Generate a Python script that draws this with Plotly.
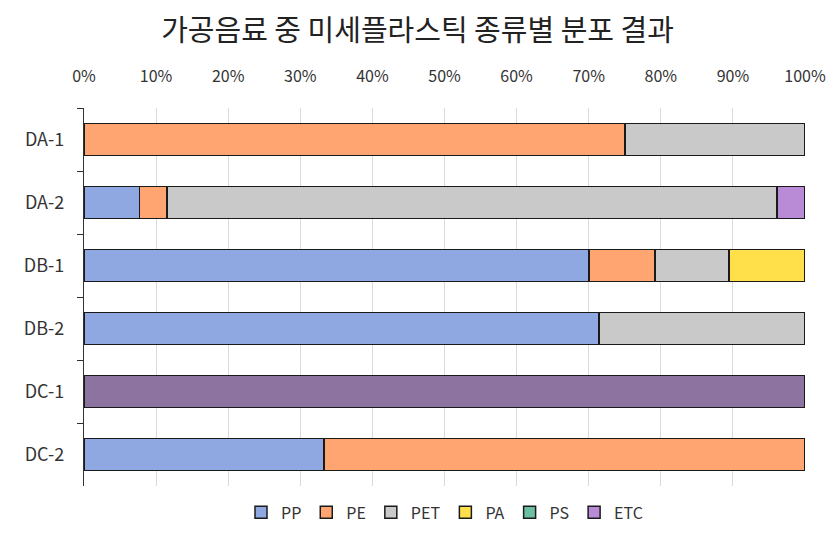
import plotly.graph_objects as go

categories = ["DA-1", "DA-2", "DB-1", "DB-2", "DC-1", "DC-2"]
series_names = ["PP", "PE", "PET", "PA", "PS", "ETC"]
pp = [None, 7.69, 70.0, 71.4, None, 33.3]
pe = [75.0, 3.85, 9.2, None, None, 66.7]
pet = [25.0, 84.61, 10.3, 28.6, None, None]
pa = [None, None, 10.5, None, None, None]
ps = [None, None, None, None, None, None]
etc = [None, 3.85, None, None, 100.0, None]
values = [pp, pe, pet, pa, ps, etc]
colors = ["#8FA8E2", "#FFA572", "#C9C9C9", "#FFE04A", "#6CBFA0", "#B98AD6"]
etc_point_colors = ["#B98AD6", "#B98AD6", "#B98AD6", "#B98AD6", "#8C73A0", "#B98AD6"]

FONT = "Noto Sans CJK KR"

fig = go.Figure()
for name, vals, col in zip(series_names, values, colors):
    mc = etc_point_colors if name == "ETC" else col
    fig.add_trace(go.Bar(
        y=categories, x=vals, name=name, orientation="h",
        marker=dict(color=mc, line=dict(color="#1a1a1a", width=1.8)),
        showlegend=False,
    ))
# legend entries
for name, col in zip(series_names, colors):
    fig.add_trace(go.Bar(
        y=[None], x=[None], name=name, orientation="h",
        marker=dict(color=col, line=dict(color="#1a1a1a", width=1.5)),
        showlegend=True,
    ))

fig.update_layout(
    barmode="stack",
    bargap=0.49,
    width=835, height=543,
    margin=dict(l=84, r=30, t=108, b=57),
    paper_bgcolor="white", plot_bgcolor="white",
    font=dict(family=FONT, size=15, color="#333333"),
    title=dict(text="가공음료 중 미세플라스틱 종류별 분포 결과", x=0.5, xanchor="center",
               y=0.943, yanchor="middle", font=dict(family=FONT, size=29, color="#222222")),
    legend=dict(orientation="h", x=0.5, xanchor="center", y=-0.07, yanchor="middle",
                font=dict(family=FONT, size=16, color="#333333"), itemwidth=30,
                tracegroupgap=0, traceorder="normal"),
    xaxis=dict(side="top", range=[0, 100], dtick=10, ticksuffix="%",
               showgrid=True, gridcolor="#DADADA", gridwidth=1, zeroline=False,
               showline=False, ticks="", ticklabelstandoff=22, automargin=False,
               tickfont=dict(family=FONT, size=16, color="#333333")),
    yaxis=dict(categoryorder="array", categoryarray=categories, autorange="reversed",
               showline=True, linecolor="#333333", linewidth=1.2,
               ticks="outside", ticklen=6, tickcolor="#333333", tickson="boundaries",
               ticklabelstandoff=15, showgrid=False, automargin=False,
               tickfont=dict(family=FONT, size=18, color="#333333")),
)

fig.write_html("out.html")
